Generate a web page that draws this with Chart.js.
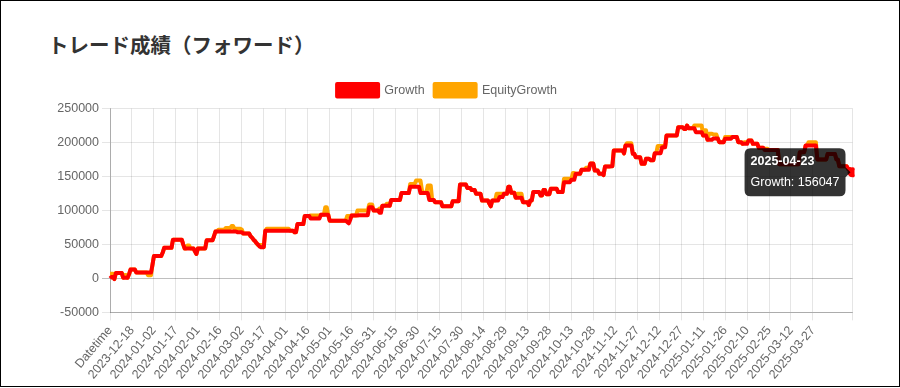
<!DOCTYPE html>
<html>
<head>
<meta charset="utf-8">
<script src="https://cdn.jsdelivr.net/npm/chart.js@4.4.1/dist/chart.umd.min.js"></script>
<style>
  html, body { margin: 0; padding: 0; background: #fff; }
  #frame { position: relative; width: 900px; height: 387px; box-sizing: border-box; border: 1px solid #000; overflow: hidden; }
  #title { position: absolute; left: 47px; top: 29px; margin: 0; font: bold 20.5px 'Noto Sans CJK JP', sans-serif; color: #333; line-height: 28px; }
  #wrap { position: absolute; left: 26px; top: 73px; width: 840px; height: 311px; }
</style>
</head>
<body>
<div id="frame">
  <h3 id="title">トレード成績（フォワード）</h3>
  <div id="wrap"><canvas id="chart"></canvas></div>
</div>
<script>
// first category is the header cell, then one label per day
const firstDay = Date.UTC(2023, 11, 4);
const dayCount = 507;
const labels = ['Datetime'];
for (let d = 0; d < dayCount; d++) {
  labels.push(new Date(firstDay + d * 86400000).toISOString().slice(0, 10));
}

const growth = [
  0, 2000, 2000, -1000, 8000, 8000, 8000, 8000, 8000, 1000,
  1000, 1000, 1000, 6000, 13000, 13000, 13000, 13000, 8500, 8500,
  8500, 8500, 8500, 8500, 8500, 8500, 8500, 8500, 8500, 20000,
  33000, 33000, 33000, 33000, 33000, 33000, 38000, 45000, 45000, 45000,
  45000, 45000, 45000, 57000, 57000, 57000, 57000, 57000, 57000, 57000,
  50000, 44000, 44000, 44000, 44000, 44000, 44000, 44000, 40000, 36000,
  44000, 44000, 44000, 44000, 44000, 44000, 56000, 56000, 56000, 56000,
  56000, 62000, 69000, 69000, 69000, 69000, 69000, 69000, 69000, 69000,
  69000, 69000, 69000, 69000, 69000, 69000, 69000, 68000, 68000, 68000,
  68000, 66000, 66000, 66000, 66000, 66000, 62000, 60000, 57000, 55000,
  52000, 50000, 47000, 46000, 46000, 46000, 70000, 70000, 70000, 70000,
  70000, 70000, 70000, 70000, 70000, 70000, 70000, 70000, 70000, 70000,
  70000, 70000, 70000, 70000, 70000, 70000, 68000, 68000, 80000, 80000,
  80000, 80000, 80000, 92000, 92000, 92000, 92000, 88000, 88000, 88000,
  88000, 88000, 88000, 88000, 93500, 93500, 93500, 93500, 93500, 93500,
  85000, 85000, 85000, 85000, 85000, 85000, 85000, 85000, 85000, 85000,
  85000, 85000, 83000, 81000, 86000, 92500, 92500, 92500, 92500, 92500,
  93000, 93000, 93000, 93000, 93000, 93000, 93000, 104800, 104800, 104800,
  100000, 100000, 100000, 100000, 96500, 96500, 107000, 107000, 107000, 107000,
  107000, 107000, 115500, 115500, 115500, 115500, 115500, 115500, 115500, 125500,
  125500, 125500, 125500, 125500, 125500, 135000, 135000, 135000, 135000, 135000,
  135000, 135000, 125500, 125500, 125500, 125500, 125500, 125500, 115500, 115500,
  115500, 115500, 112000, 112000, 112000, 112000, 112000, 106000, 106000, 106000,
  106000, 106000, 106000, 106000, 113500, 113500, 113500, 113500, 113500, 138000,
  138000, 138000, 138000, 138000, 133000, 133000, 133000, 130000, 130000, 130000,
  124500, 124500, 124500, 124500, 114700, 114700, 114700, 114700, 114700, 110000,
  106000, 114700, 114700, 114700, 114700, 114700, 119600, 119600, 119600, 124500,
  124500, 124500, 135000, 135000, 126000, 126000, 126000, 118600, 118600, 118600,
  118600, 118600, 112200, 112200, 112200, 112200, 108000, 114700, 114700, 127000,
  127000, 127000, 127000, 127000, 122000, 122000, 130000, 130000, 124000, 124000,
  124000, 132000, 132000, 132000, 132000, 132000, 127000, 127000, 127000, 127000,
  141600, 141600, 141600, 141600, 141600, 145000, 145000, 145000, 154000, 154000,
  154000, 154000, 159800, 159800, 159800, 159800, 159800, 159800, 169000, 169000,
  169000, 158800, 158800, 158800, 154000, 154000, 154000, 152000, 164700, 164700,
  164700, 164700, 165000, 165000, 188200, 188200, 188200, 188200, 188200, 188200,
  188200, 184000, 195600, 195600, 195600, 195600, 195600, 183300, 183300, 178400,
  178400, 178400, 178400, 168600, 168600, 168600, 176000, 176000, 176000, 174000,
  174000, 174000, 184300, 184300, 184300, 184300, 184300, 193100, 193100, 193100,
  210300, 210300, 210300, 210300, 210300, 210300, 210300, 210300, 222500, 222500,
  222500, 222500, 220000, 220000, 225000, 221000, 221000, 221000, 221000, 221000,
  215200, 215200, 215200, 215200, 215200, 210300, 210300, 210300, 204000, 204000,
  204000, 204000, 206000, 206000, 206000, 206000, 200500, 200500, 200500, 200500,
  205400, 205400, 205400, 205400, 205400, 208000, 208000, 208000, 208000, 200500,
  200500, 200500, 198000, 198000, 198000, 198000, 203000, 203000, 203000, 198000,
  198000, 198000, 198000, 192200, 192200, 192200, 192200, 189000, 189000, 189000,
  189000, 189000, 189000, 189000, 189000, 189000, 189000, 168000, 168000, 168000,
  168000, 168000, 168000, 168000, 168000, 168000, 168000, 168000, 168000, 168000,
  168000, 185800, 185800, 185800, 185800, 195600, 195600, 195600, 195600, 195600,
  195600, 195600, 195600, 175000, 175000, 175000, 175000, 175000, 175000, 175000,
  183000, 183000, 183000, 183000, 183000, 183000, 175000, 175000, 165000, 165000,
  165000, 165000, 165000, 165000, 161000, 161000, 158000, 156047
];

const equityGrowth = [
  7000, 7000, 7000, -1000, 8000, 8000, 8000, 8000, 8000, 1000,
  5000, 5000, 1000, 6000, 13000, 13000, 13000, 13000, 8500, 8500,
  8500, 8500, 8500, 8500, 8500, 8500, 4500, 4500, 4500, 20000,
  33000, 33000, 33000, 33000, 33000, 33000, 38000, 45000, 45000, 45000,
  45000, 45000, 45000, 57000, 57000, 57000, 57000, 57000, 57000, 57000,
  50000, 44000, 44000, 48500, 48500, 44000, 44000, 44000, 40000, 36000,
  44000, 44000, 44000, 44000, 44000, 44000, 56000, 56000, 56000, 56000,
  56000, 62000, 69000, 69000, 71500, 71500, 71500, 71500, 71500, 74000,
  74000, 74000, 74000, 77000, 77000, 73000, 73000, 73000, 73000, 73000,
  72000, 66000, 66000, 66000, 66000, 66000, 62000, 60000, 57000, 55000,
  52000, 49000, 49000, 49000, 49000, 46000, 70000, 73000, 73000, 73000,
  73000, 73000, 73000, 73000, 73000, 73000, 73000, 73000, 73000, 73000,
  73000, 73000, 73000, 70000, 70000, 70000, 68000, 68000, 80000, 80000,
  80000, 80000, 80000, 92000, 92000, 92000, 92000, 92600, 92600, 92600,
  92600, 92600, 92600, 92600, 93500, 93500, 93500, 104800, 104800, 93500,
  85000, 85000, 85000, 85000, 85000, 85000, 85000, 85000, 85000, 85000,
  85000, 85000, 92000, 92000, 92000, 92500, 92500, 92500, 92500, 100000,
  100000, 100000, 100000, 100000, 100000, 100000, 100000, 108800, 108800, 108800,
  100000, 100000, 100000, 100000, 103000, 103000, 107000, 107000, 107000, 110000,
  110000, 107000, 115500, 115500, 115500, 115500, 115500, 115500, 115500, 125500,
  125500, 125500, 125500, 125500, 125500, 139000, 139000, 139000, 139000, 144000,
  144000, 144000, 144000, 130000, 125500, 125500, 125500, 136800, 136800, 136800,
  115500, 115500, 112000, 112000, 112000, 112000, 112000, 106000, 106000, 106000,
  106000, 106000, 106000, 106000, 113500, 113500, 113500, 113500, 113500, 138000,
  138000, 138000, 138000, 138000, 133000, 133000, 133000, 130000, 130000, 130000,
  124500, 124500, 124500, 124500, 114700, 114700, 114700, 114700, 114700, 110000,
  106000, 114700, 114700, 114700, 124500, 124500, 124500, 124500, 124500, 124500,
  124500, 124500, 135000, 135000, 126000, 126000, 126000, 118600, 124500, 124500,
  124500, 124500, 112200, 112200, 112200, 112200, 108000, 114700, 114700, 127000,
  127000, 127000, 127000, 127000, 122000, 122000, 130000, 130000, 124000, 124000,
  124000, 132000, 132000, 132000, 132000, 132000, 127000, 127000, 127000, 127000,
  146600, 146600, 146600, 146600, 146600, 145000, 155000, 155000, 154000, 154000,
  154000, 154000, 159800, 159800, 159800, 162700, 162700, 162700, 169000, 169000,
  169000, 158800, 158800, 158800, 154000, 154000, 154000, 152000, 164700, 164700,
  164700, 164700, 165000, 165000, 188200, 188200, 188200, 188200, 188200, 188200,
  188200, 184000, 195600, 199000, 199000, 199000, 199000, 183300, 183300, 178400,
  178400, 178400, 178400, 168600, 168600, 168600, 176000, 176000, 176000, 174000,
  174000, 174000, 184300, 184300, 195000, 195000, 195000, 195000, 195000, 193100,
  210300, 210300, 210300, 210300, 210300, 210300, 210300, 210300, 222500, 222500,
  222500, 222500, 220000, 220000, 225000, 221000, 221000, 221000, 221000, 225000,
  225000, 225000, 225000, 225000, 225000, 210300, 218000, 218000, 204000, 213000,
  213000, 213000, 211800, 211800, 211800, 206000, 200500, 200500, 200500, 200500,
  208000, 208000, 208000, 208000, 208000, 208000, 208000, 208000, 208000, 200500,
  200500, 200500, 198000, 200500, 200500, 200500, 203000, 203000, 203000, 198000,
  198000, 198000, 198000, 192200, 192200, 192200, 192200, 190700, 190700, 190700,
  189000, 189000, 189000, 189000, 189000, 189000, 189000, 168000, 168000, 168000,
  168000, 168000, 168000, 168000, 168000, 168000, 168000, 168000, 168000, 168000,
  168000, 185800, 185800, 185800, 185800, 195600, 195600, 200500, 200500, 200500,
  200500, 200500, 200500, 175000, 175000, 175000, 175000, 175000, 175000, 175000,
  183000, 183000, 183000, 183000, 183000, 183000, 175000, 175000, 165000, 165000,
  165000, 165000, 165000, 165000, 161000, 161000, 158000, 156047
];

const yMin = -50000;
const yMax = 250000;
const yStep = 50000;
const labelEvery = 15;
const lastIndex = labels.length - 1;

const gridColor = 'rgba(0, 0, 0, 0.1)';
const axisColor = 'rgba(0, 0, 0, 0.25)';

Chart.defaults.font.family = "Arial, 'Liberation Sans', sans-serif";
Chart.defaults.font.size = 12.5;
Chart.defaults.color = '#666';

// every 15th day gets a tick; the one too close to the end is dropped,
// and the last day keeps a bare grid line
const showTick = (i) => (i % labelEvery === 0 && i + labelEvery < labels.length) || i === lastIndex;

// a little more room between legend and plot
const legendGap = {
  id: 'legendGap',
  beforeLayout(chart) {
    const lg = chart.legend;
    if (lg && !lg._gapPatched) {
      const fit = lg.fit;
      lg.fit = function () {
        fit.call(this);
        this.height += 2;
      };
      lg._gapPatched = true;
    }
  },
};

const chart = new Chart(document.getElementById('chart'), {
  type: 'line',
  data: {
    labels: labels,
    datasets: [
      {
        label: 'Growth',
        data: growth,
        borderColor: 'red',
        backgroundColor: 'red',
        pointHoverBackgroundColor: 'red',
        pointHoverBorderColor: 'red',
        borderWidth: 4,
        borderJoinStyle: 'round',
        pointRadius: 0,
        pointHoverRadius: 4,
        pointHoverBorderWidth: 2,
        fill: false,
        tension: 0,
      },
      {
        label: 'EquityGrowth',
        data: equityGrowth,
        borderColor: 'orange',
        backgroundColor: 'orange',
        borderWidth: 4,
        borderJoinStyle: 'round',
        pointRadius: 0,
        fill: false,
        tension: 0,
      },
    ],
  },
  options: {
    responsive: true,
    maintainAspectRatio: false,
    animation: false,
    plugins: {
      legend: {
        position: 'top',
        labels: { boxWidth: 41 },
      },
      tooltip: {
        displayColors: false,
        titleFont: { size: 12.5, weight: 'bold' },
        bodyFont: { size: 12.5 },
        callbacks: {
          label: (c) => c.dataset.label + ': ' + c.parsed.y,
        },
      },
    },
    scales: {
      x: {
        afterBuildTicks: (axis) => {
          axis.ticks = axis.ticks.filter((t) => showTick(t.value));
        },
        ticks: {
          autoSkip: false,
          minRotation: 50,
          maxRotation: 50,
          callback: (value) => (value === lastIndex ? '' : labels[value]),
        },
        grid: { color: gridColor },
        border: { color: axisColor },
      },
      y: {
        min: yMin,
        max: yMax,
        ticks: {
          stepSize: yStep,
          callback: (v) => String(v),
        },
        grid: {
          color: (c) => (c.tick && c.tick.value === 0 ? axisColor : gridColor),
        },
        border: { color: axisColor },
        afterFit: (axis) => { axis.width = 83; },
      },
    },
  },
  plugins: [legendGap],
});

// show the hover state on the last point, as in the screenshot
const active = [{ datasetIndex: 0, index: lastIndex }];
const pt = chart.getDatasetMeta(0).data[lastIndex];
chart.setActiveElements(active);
chart.tooltip.setActiveElements(active, { x: pt.x, y: pt.y });
chart.update();
</script>
</body>
</html>
